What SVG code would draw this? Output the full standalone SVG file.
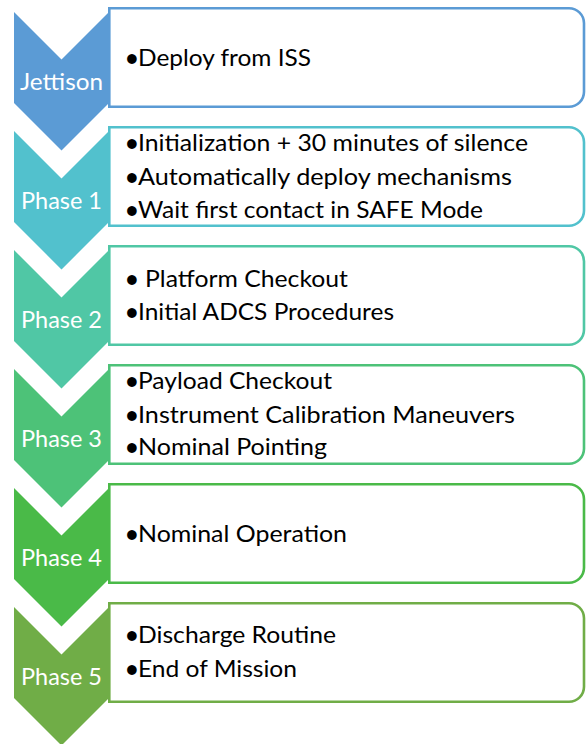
<svg xmlns="http://www.w3.org/2000/svg" width="586" height="744" viewBox="0 0 586 744">
  <style>
    .box { fill: #FFFFFF; stroke-width: 2.6; }
    .label { font-family: "Lato", "Open Sans", "Liberation Sans", sans-serif; font-size: 24px; fill: #FFFFFF; text-anchor: middle; }
    .item { font-family: "Lato", "Open Sans", "Liberation Sans", sans-serif; font-size: 23px; fill: #000000; }
    .dot { font-size: 22px; font-weight: bold; }
  </style>
  <defs>
    <!-- down-pointing chevron, 95 wide, tip depth 47.5 -->
    <polygon id="chevron" points="14,12 61.5,59.5 109,12 109,103 61.5,150.5 14,103"/>
    <!-- box with square left corners and rounded right corners -->
    <path id="panel" d="M109.3,8.3 H569 A15,15 0 0 1 584,23.3 V91.7 A15,15 0 0 1 569,106.7 H109.3 Z"/>
  </defs>

  <g id="jettison">
    <use href="#chevron" fill="#5B9BD5"/>
    <use href="#panel" class="box" stroke="#5B9BD5"/>
    <text class="label" x="61.5" y="90" textLength="83" lengthAdjust="spacingAndGlyphs">Jettison</text>
    <text class="item" y="65.5"><tspan class="dot" x="125.5">•</tspan><tspan x="138" textLength="173" lengthAdjust="spacingAndGlyphs">Deploy from ISS</tspan></text>
  </g>

  <g id="phase1" transform="translate(0,119)">
    <use href="#chevron" fill="#52C1CD"/>
    <use href="#panel" class="box" stroke="#52C1CD"/>
    <text class="label" x="61.5" y="90" textLength="81" lengthAdjust="spacingAndGlyphs">Phase 1</text>
    <text class="item" y="32"><tspan class="dot" x="125.5">•</tspan><tspan x="138" textLength="390" lengthAdjust="spacingAndGlyphs">Initialization + 30 minutes of silence</tspan></text>
    <text class="item" y="66"><tspan class="dot" x="125.5">•</tspan><tspan x="138" textLength="374" lengthAdjust="spacingAndGlyphs">Automatically deploy mechanisms</tspan></text>
    <text class="item" y="99"><tspan class="dot" x="125.5">•</tspan><tspan x="138" textLength="345" lengthAdjust="spacingAndGlyphs">Wait first contact in SAFE Mode</tspan></text>
  </g>

  <g id="phase2" transform="translate(0,238)">
    <use href="#chevron" fill="#50C7A5"/>
    <use href="#panel" class="box" stroke="#50C7A5"/>
    <text class="label" x="61.5" y="90" textLength="81" lengthAdjust="spacingAndGlyphs">Phase 2</text>
    <text class="item" y="49"><tspan class="dot" x="125.5">•</tspan><tspan x="145" textLength="203" lengthAdjust="spacingAndGlyphs">Platform Checkout</tspan></text>
    <text class="item" y="82"><tspan class="dot" x="125.5">•</tspan><tspan x="138" textLength="256" lengthAdjust="spacingAndGlyphs">Initial ADCS Procedures</tspan></text>
  </g>

  <g id="phase3" transform="translate(0,357)">
    <use href="#chevron" fill="#4DC278"/>
    <use href="#panel" class="box" stroke="#4DC278"/>
    <text class="label" x="61.5" y="90" textLength="81" lengthAdjust="spacingAndGlyphs">Phase 3</text>
    <text class="item" y="31.5"><tspan class="dot" x="125.5">•</tspan><tspan x="138" textLength="194" lengthAdjust="spacingAndGlyphs">Payload Checkout</tspan></text>
    <text class="item" y="65.5"><tspan class="dot" x="125.5">•</tspan><tspan x="138" textLength="377" lengthAdjust="spacingAndGlyphs">Instrument Calibration Maneuvers</tspan></text>
    <text class="item" y="98"><tspan class="dot" x="125.5">•</tspan><tspan x="138" textLength="189" lengthAdjust="spacingAndGlyphs">Nominal Pointing</tspan></text>
  </g>

  <g id="phase4" transform="translate(0,476)">
    <use href="#chevron" fill="#4ABA48"/>
    <use href="#panel" class="box" stroke="#4ABA48"/>
    <text class="label" x="61.5" y="90" textLength="81" lengthAdjust="spacingAndGlyphs">Phase 4</text>
    <text class="item" y="65.5"><tspan class="dot" x="125.5">•</tspan><tspan x="138" textLength="209" lengthAdjust="spacingAndGlyphs">Nominal Operation</tspan></text>
  </g>

  <g id="phase5" transform="translate(0,595)">
    <use href="#chevron" fill="#70AD47"/>
    <use href="#panel" class="box" stroke="#70AD47"/>
    <text class="label" x="61.5" y="90" textLength="81" lengthAdjust="spacingAndGlyphs">Phase 5</text>
    <text class="item" y="48"><tspan class="dot" x="125.5">•</tspan><tspan x="138" textLength="198" lengthAdjust="spacingAndGlyphs">Discharge Routine</tspan></text>
    <text class="item" y="82"><tspan class="dot" x="125.5">•</tspan><tspan x="138" textLength="159" lengthAdjust="spacingAndGlyphs">End of Mission</tspan></text>
  </g>

  <g id="connectors"></g>
</svg>
